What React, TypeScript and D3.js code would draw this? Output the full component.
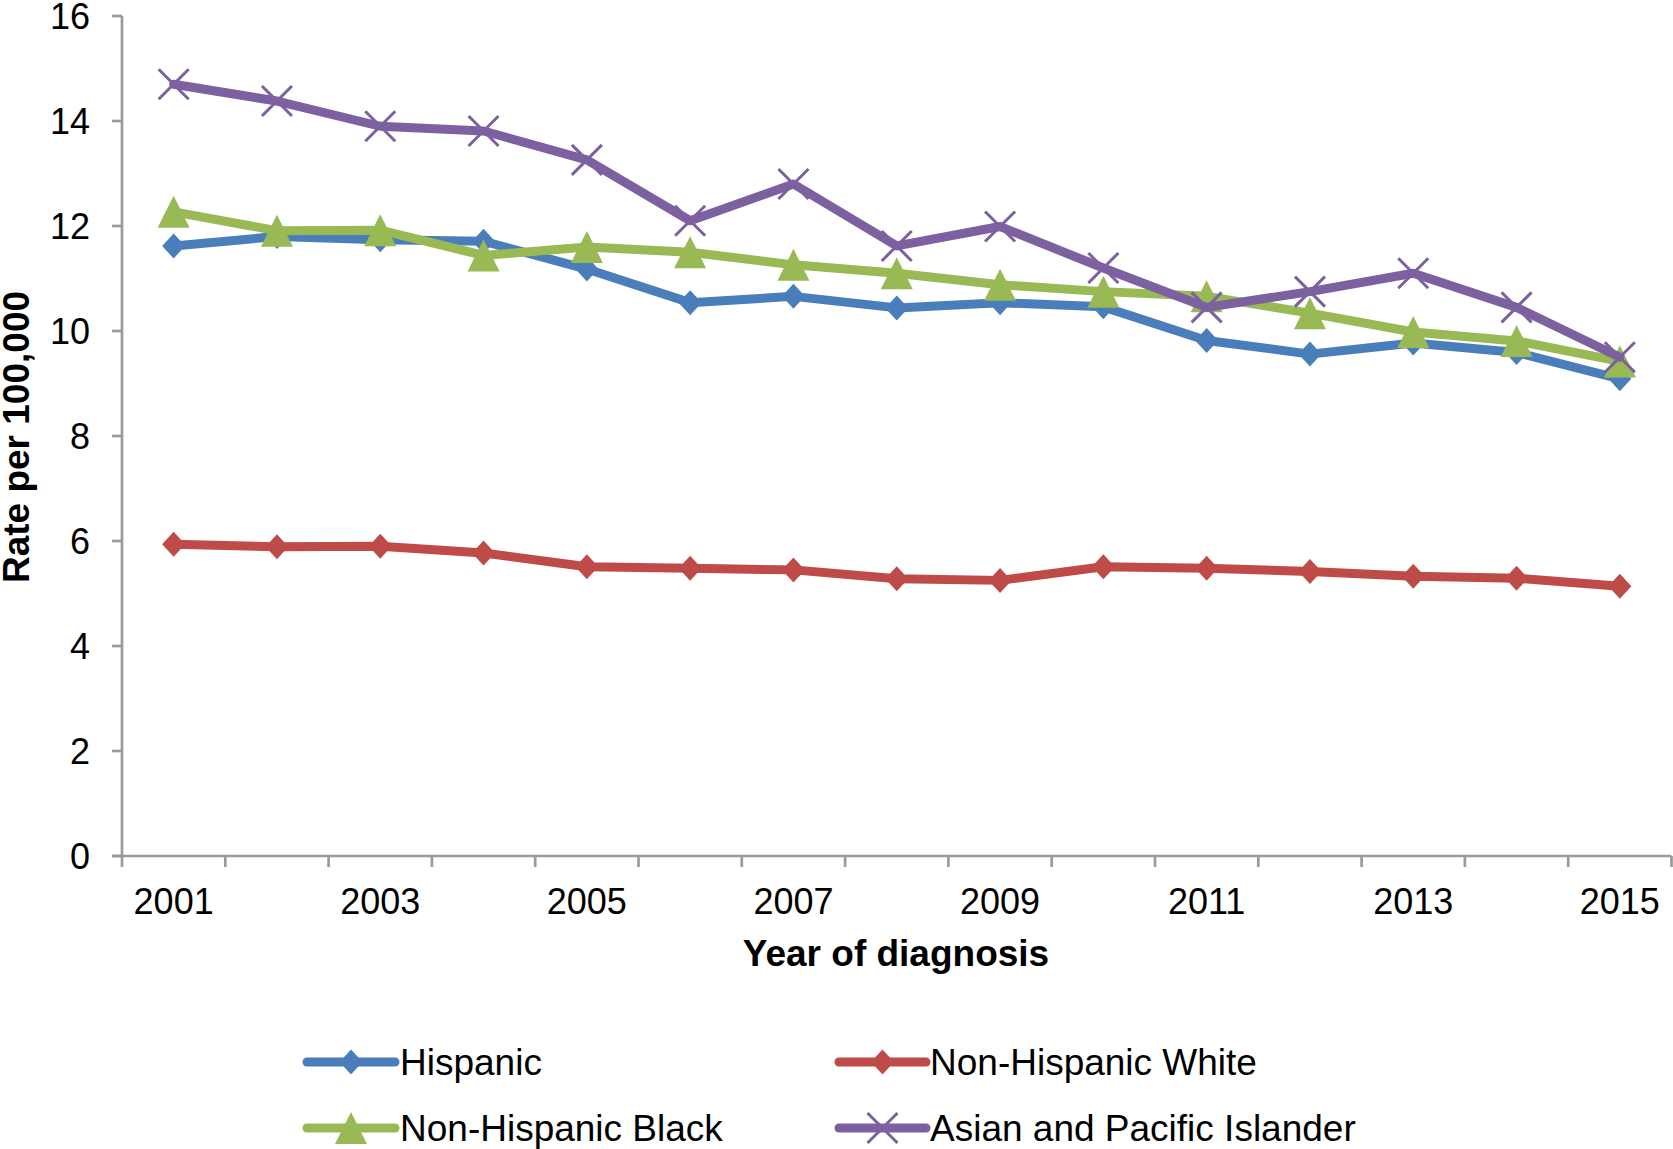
import * as React from "react";
import * as d3 from "d3";

const years = [2001, 2002, 2003, 2004, 2005, 2006, 2007, 2008, 2009, 2010, 2011, 2012, 2013, 2014, 2015];
const hispanic = [11.62, 11.80, 11.74, 11.71, 11.18, 10.54, 10.66, 10.44, 10.54, 10.46, 9.82, 9.56, 9.77, 9.59, 9.09];
const nhWhite = [5.94, 5.89, 5.90, 5.77, 5.51, 5.48, 5.45, 5.28, 5.25, 5.51, 5.48, 5.42, 5.33, 5.29, 5.14];
const nhBlack = [12.27, 11.91, 11.92, 11.44, 11.60, 11.50, 11.26, 11.10, 10.88, 10.75, 10.66, 10.34, 9.98, 9.81, 9.42];
const asianPI = [14.70, 14.38, 13.90, 13.81, 13.26, 12.10, 12.80, 11.62, 11.99, 11.20, 10.45, 10.75, 11.10, 10.45, 9.50];
const yTicks = [0, 2, 4, 6, 8, 10, 12, 14, 16];
const xLabels = ["2001", "2003", "2005", "2007", "2009", "2011", "2013", "2015"];

const series = [
  {name: "Hispanic", values: hispanic, color: "#4A7EBB", marker: "diamond"},
  {name: "Non-Hispanic White", values: nhWhite, color: "#BE4B48", marker: "diamond"},
  {name: "Non-Hispanic Black", values: nhBlack, color: "#98B954", marker: "triangle"},
  {name: "Asian and Pacific Islander", values: asianPI, color: "#7D60A0", marker: "x"},
];

const W = 1673, H = 1149;
const margin = {top: 16, right: 1.5, bottom: 293, left: 122};
const FONT = "'Liberation Sans', Arial, sans-serif";
const AXIS = "#9a9a9a";

function Marker({type, x, y, color}) {
  if (type === "diamond") {
    const rx = 11.5, ry = 12.5;
    return <path d={`M${x},${y - ry}L${x + rx},${y}L${x},${y + ry}L${x - rx},${y}Z`} fill={color}/>;
  }
  if (type === "triangle") {
    const w = 16, h = 32;
    return <path d={`M${x},${y - h * 0.5}L${x + w},${y + h * 0.5}L${x - w},${y + h * 0.5}Z`} fill={color}/>;
  }
  const r = 15;
  return <path d={`M${x - r},${y - r}L${x + r},${y + r}M${x + r},${y - r}L${x - r},${y + r}`}
               stroke={color} strokeWidth={3} fill="none"/>;
}

export default function App() {
  const x = d3.scaleBand().domain(years.map(String))
    .range([margin.left, W - margin.right]);
  const y = d3.scaleLinear().domain([0, 16]).range([H - margin.bottom, margin.top]);
  const cx = (yr) => x(String(yr)) + x.bandwidth() / 2;

  const line = d3.line()
    .x((d, i) => cx(years[i]))
    .y(d => y(d));

  const x0 = margin.left, y0 = y(0);
  const boundaries = d3.range(years.length + 1).map(i => margin.left + i * x.bandwidth());

  const legendRows = [1062, 1128];
  const legendCols = [{l0: 307, l1: 395, tx: 400}, {l0: 839, l1: 926, tx: 930}];

  return (
    <svg width={W} height={H} style={{position: "absolute", left: 0, top: 0, background: "#fff"}}
         fontFamily={FONT}>
      <rect width={W} height={H} fill="#fff"/>

      {/* axes */}
      <line x1={x0} x2={x0} y1={margin.top} y2={y0} stroke={AXIS} strokeWidth={2.7}/>
      <line x1={x0 - 10} x2={W - margin.right} y1={y0} y2={y0} stroke={AXIS} strokeWidth={2.7}/>
      {yTicks.map(t => (
        <g key={t}>
          <line x1={x0 - 10} x2={x0} y1={y(t)} y2={y(t)} stroke={AXIS} strokeWidth={2.7}/>
          <text x={x0 - 32} y={y(t)} dy="0.36em" textAnchor="end" fontSize={36}>{t}</text>
        </g>
      ))}
      {boundaries.map((b, i) => (
        <line key={i} x1={b} x2={b} y1={y0} y2={y0 + 11} stroke={AXIS} strokeWidth={2.7}/>
      ))}
      {xLabels.map(l => (
        <text key={l} x={cx(+l)} y={914} textAnchor="middle" fontSize={36}>{l}</text>
      ))}

      <text x={896} y={966} textAnchor="middle" fontSize={37} fontWeight="bold">Year of diagnosis</text>
      <text transform={`translate(29,437) rotate(-90)`} textAnchor="middle" fontSize={37}
            fontWeight="bold">Rate per 100,000</text>

      {/* series */}
      {series.map(s => (
        <g key={s.name}>
          <path d={line(s.values)} fill="none" stroke={s.color} strokeWidth={9}
                strokeLinejoin="round" strokeLinecap="round"/>
          {s.values.map((v, i) => (
            <Marker key={i} type={s.marker} x={cx(years[i])} y={y(v)} color={s.color}/>
          ))}
        </g>
      ))}

      {/* legend */}
      {series.map((s, i) => {
        const col = legendCols[i % 2];
        const ry = legendRows[Math.floor(i / 2)];
        const mx = (col.l0 + col.l1) / 2;
        return (
          <g key={s.name}>
            <line x1={col.l0} x2={col.l1} y1={ry} y2={ry} stroke={s.color} strokeWidth={9}
                  strokeLinecap="round"/>
            <Marker type={s.marker} x={mx} y={ry} color={s.color}/>
            <text x={col.tx} y={ry} dy="0.36em" fontSize={37}>{s.name}</text>
          </g>
        );
      })}
    </svg>
  );
}
